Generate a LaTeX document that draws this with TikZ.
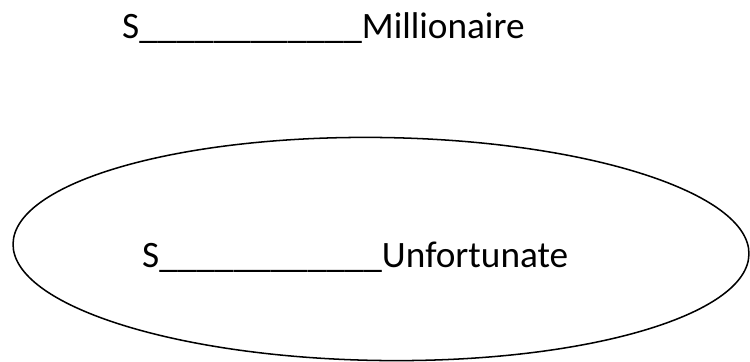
\documentclass[tikz,border=0pt]{standalone}
\usepackage{fontspec}
\setmainfont{Carlito}
\usetikzlibrary{positioning,calc}

\begin{document}
\begin{tikzpicture}[
  x=0.03cm, y=-0.03cm,
  label/.style={font=\fontsize{31.8}{37}\selectfont, text=black, inner sep=0pt, anchor=base west},
  ring/.style={draw=black, line width=1.3pt},
]
  \useasboundingbox (0,0) rectangle (750,361);

  %% Statement above the ellipse
  \node[label] (rich) at (122,38) {S\_\_\_\_\_\_\_\_\_\_\_\_Millionaire};

  %% Ellipse with its statement
  \draw[ring, rotate around={-0.8:(381,249)}] (381,249) ellipse [x radius=368, y radius=111.5];
  \node[label] (poor) at (142,267) {S\_\_\_\_\_\_\_\_\_\_\_\_Unfortunate};

\end{tikzpicture}
\end{document}
